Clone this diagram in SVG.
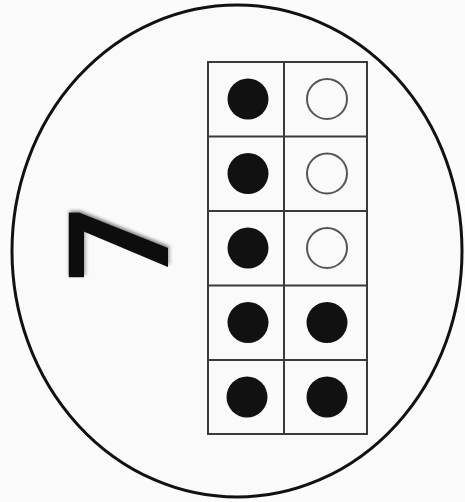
<svg xmlns="http://www.w3.org/2000/svg" width="465" height="502" viewBox="0 0 465 502">
  <defs>
    <style>
      .cell { fill: none; stroke: #3a3a3a; stroke-width: 2; }
      .full { fill: #111; }
      .empty { fill: #fafafa; stroke: #555; stroke-width: 2; }
      .num { font-family: Roboto, "DejaVu Sans", sans-serif; font-weight: bold; font-size: 140px; fill: #111; }
    </style>
    <filter id="soft" x="-20%" y="-20%" width="140%" height="140%">
      <feGaussianBlur in="SourceAlpha" stdDeviation="2" result="b"/>
      <feOffset in="b" dx="2" dy="1" result="o"/>
      <feFlood flood-color="#000" flood-opacity="0.45"/>
      <feComposite in2="o" operator="in" result="sh"/>
      <feGaussianBlur in="SourceGraphic" stdDeviation="0.5" result="s"/>
      <feMerge>
        <feMergeNode in="sh"/>
        <feMergeNode in="s"/>
      </feMerge>
    </filter>
  </defs>
  <rect width="465" height="502" fill="#fbfbfb"/>
  <g id="circle">
    <ellipse cx="237" cy="251" rx="225" ry="246" fill="#fafafa" stroke="#111" stroke-width="3"/>
  </g>
  <g id="numeral">
    <text class="num" transform="translate(168 281) rotate(-90) scale(0.92 1)" filter="url(#soft)">7</text>
  </g>
  <g id="ten-frame">
    <rect class="cell" x="208" y="62" width="159" height="372"/>
    <line class="cell" x1="284" y1="62" x2="284" y2="434"/>
    <line class="cell" x1="208" y1="136.5" x2="367" y2="136.5"/>
    <line class="cell" x1="208" y1="211" x2="367" y2="211"/>
    <line class="cell" x1="208" y1="285.5" x2="367" y2="285.5"/>
    <line class="cell" x1="208" y1="360" x2="367" y2="360"/>
  </g>
  <g id="counters">
    <circle class="full" cx="248" cy="99" r="20.5"/>
    <circle class="empty" cx="327" cy="99" r="20"/>
    <circle class="full" cx="248" cy="173.5" r="20.5"/>
    <circle class="empty" cx="327" cy="173.5" r="20"/>
    <circle class="full" cx="248" cy="248" r="20.5"/>
    <circle class="empty" cx="327" cy="248" r="20"/>
    <circle class="full" cx="248" cy="322.5" r="20.5"/>
    <circle class="full" cx="327" cy="322.5" r="20.5"/>
    <circle class="full" cx="247" cy="397" r="20.5"/>
    <circle class="full" cx="327" cy="397" r="20.5"/>
  </g>
</svg>
